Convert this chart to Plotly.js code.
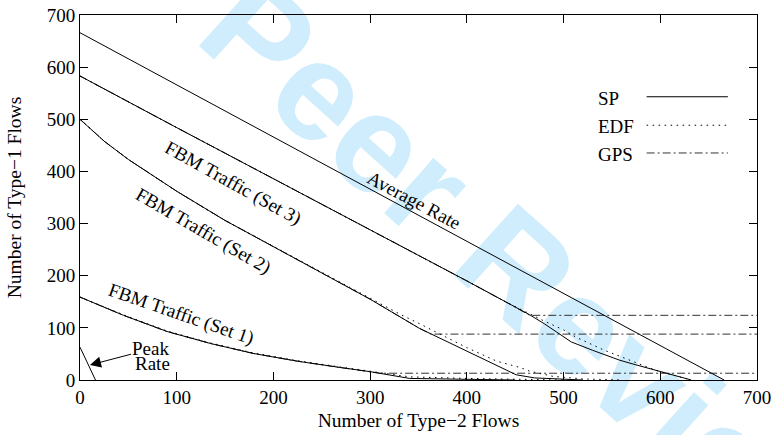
<!DOCTYPE html>
<html>
<head>
<meta charset="utf-8">
<script src="https://cdn.plot.ly/plotly-3.0.1.min.js"></script>
<style>html,body{margin:0;padding:0;background:#fff;}#chart{width:774px;height:435px;}</style>
</head>
<body>
<div id="chart"></div>
<script>
// ---- data ----
const avgX = [0, 666];
const avgY = [666, 0];

const peakX = [0, 16];
const peakY = [63, 0];

const set3SpX = [0, 50, 100, 150, 200, 250, 300, 350, 400, 440, 465, 480, 494, 508, 530, 558, 575, 600, 632];
const set3SpY = [583, 533, 484, 435, 386, 337, 289, 240, 190, 150, 125, 108, 90, 73, 57, 38, 29, 16, 0];
const set3EdfX = [0, 50, 100, 150, 200, 250, 300, 350, 400, 440, 465, 480, 500, 513, 541, 568, 589, 600, 632];
const set3EdfY = [583, 533, 484, 435, 386, 337, 289, 240, 190, 150, 126, 113, 96, 82, 58, 38, 23, 16, 0];
const set3GpsX = [0, 50, 100, 150, 200, 250, 300, 350, 400, 440, 465, 700];
const set3GpsY = [583, 533, 484, 435, 386, 337, 289, 240, 190, 150, 124, 124];

const set2SpX = [0, 25, 50, 100, 150, 200, 250, 300, 351, 400, 451, 470, 520];
const set2SpY = [500, 458, 423, 362, 306, 256, 206, 155, 99, 55, 10, 4, 0];
const set2EdfX = [0, 25, 50, 100, 150, 200, 250, 300, 330, 351, 400, 431, 455, 465, 489, 520, 560];
const set2EdfY = [500, 458, 423, 362, 306, 256, 206, 157, 127, 108, 62, 36, 24, 17, 7, 2, 0];
const set2GpsX = [0, 25, 50, 100, 150, 200, 250, 300, 351, 363, 700];
const set2GpsY = [500, 458, 423, 362, 306, 256, 206, 155, 99, 88, 88];

const set1SpX = [0, 45, 90, 135, 179, 225, 269, 300, 341, 400, 450];
const set1SpY = [159, 124, 93, 70, 51, 36, 24, 16, 3, 1, 0];
const set1EdfX = [0, 45, 90, 135, 179, 225, 269, 300, 341, 400, 450, 500];
const set1EdfY = [159, 125, 94, 71, 52, 37, 25, 17, 6, 3, 1, 0];
const set1GpsX = [0, 45, 90, 135, 179, 225, 269, 300, 310, 700];
const set1GpsY = [159, 124, 93, 70, 51, 36, 24, 16, 13, 13];

const xTicks = [0, 100, 200, 300, 400, 500, 600, 700];
const yTicks = [0, 100, 200, 300, 400, 500, 600, 700];

const legendNames = ['SP', 'EDF', 'GPS'];

// ---- styles ----
const SERIF = 'Liberation Serif, Times New Roman, serif';
const DOT = '1.5px,4.5px';
const DASHDOT = '8px,3px,2px,3px';
const solid = {color: '#000', width: 1};
const dotted = {color: '#000', width: 1, dash: DOT};
const dashdot = {color: '#333', width: 1, dash: DASHDOT};

function tr(x, y, line, name) {
  return {x: x, y: y, type: 'scatter', mode: 'lines', line: line, name: name, showlegend: false, hoverinfo: 'skip'};
}

const traces = [
  tr(set1GpsX, set1GpsY, dashdot, 'GPS'),
  tr(set2GpsX, set2GpsY, dashdot, 'GPS'),
  tr(set3GpsX, set3GpsY, dashdot, 'GPS'),
  tr(set1EdfX, set1EdfY, dotted, 'EDF'),
  tr(set2EdfX, set2EdfY, dotted, 'EDF'),
  tr(set3EdfX, set3EdfY, dotted, 'EDF'),
  tr(set1SpX, set1SpY, solid, 'SP'),
  tr(set2SpX, set2SpY, solid, 'SP'),
  tr(set3SpX, set3SpY, solid, 'SP'),
  tr(avgX, avgY, solid, 'Average Rate'),
  tr(peakX, peakY, solid, 'Peak Rate')
];

// manual legend (text left, sample right)
const legY = [0.772, 0.694, 0.618];
const legStyles = [solid, dotted, dashdot];
const annotations = [];
const shapes = [];
legendNames.forEach(function (n, i) {
  annotations.push({xref: 'paper', yref: 'paper', x: 0.762, y: legY[i], xanchor: 'left', yanchor: 'middle',
    text: n, showarrow: false, font: {family: SERIF, size: 19, color: '#000'}});
  shapes.push({type: 'line', xref: 'paper', yref: 'paper', x0: 0.837, x1: 0.957, y0: legY[i] + 0.004, y1: legY[i] + 0.004,
    line: Object.assign({}, legStyles[i])});
});

// curve labels
const lblFont = {family: SERIF, size: 19, color: '#000'};
annotations.push({x: 346, y: 345, text: 'Average Rate', textangle: 28, showarrow: false, font: lblFont});
annotations.push({x: 158, y: 378, text: 'FBM Traffic (Set 3)', textangle: 29, showarrow: false, font: lblFont});
annotations.push({x: 127, y: 285, text: 'FBM Traffic (Set 2)', textangle: 30, showarrow: false, font: lblFont});
annotations.push({x: 104, y: 126, text: 'FBM Traffic (Set 1)', textangle: 19, showarrow: false, font: lblFont});
annotations.push({x: 10.3, y: 28.8, text: 'Peak', showarrow: true, arrowhead: 2, arrowsize: 2.2,
  arrowwidth: 1, arrowcolor: '#000', ax: 61, ay: -16, font: {family: SERIF, size: 19, color: '#000'}});
annotations.push({x: 54.5, y: 31.5, xanchor: 'left', yanchor: 'middle', text: 'Rate', showarrow: false,
  font: {family: SERIF, size: 19, color: '#000'}});

// watermark, drawn below the data
shapes.push({type: 'rect', xref: 'paper', yref: 'paper', x0: 0.669, x1: 0.689, y0: 0.291, y1: 0.311,
  line: {width: 0}, fillcolor: 'rgba(0,0,0,0)', layer: 'below',
  label: {text: 'Peer Review', textangle: 42, textposition: 'middle center',
    font: {family: 'Liberation Sans, Arial, sans-serif', size: 140, color: '#cfedfc', weight: 'bold'}}});

const axisCommon = {
  range: [0, 700], tickmode: 'array', showgrid: false, zeroline: false,
  showline: true, linecolor: '#000', linewidth: 1, mirror: 'ticks',
  ticks: 'inside', ticklen: 8, tickcolor: '#000', tickwidth: 1,
  tickfont: {family: SERIF, size: 19, color: '#000'}
};

const layout = {
  width: 774, height: 435,
  margin: {l: 80, r: 17, t: 15, b: 55},
  paper_bgcolor: '#fff', plot_bgcolor: 'rgba(0,0,0,0)',
  showlegend: false,
  xaxis: Object.assign({}, axisCommon, {tickvals: xTicks, ticktext: xTicks.map(String),
    title: {text: 'Number of Type\u22122 Flows', font: {family: SERIF, size: 19.5, color: '#000'}, standoff: 6}}),
  yaxis: Object.assign({}, axisCommon, {tickvals: yTicks, ticktext: yTicks.map(String),
    title: {text: 'Number of Type\u22121 Flows', font: {family: SERIF, size: 19.5, color: '#000'}, standoff: 19}}),
  annotations: annotations,
  shapes: shapes
};

Plotly.newPlot('chart', traces, layout, {displayModeBar: false, staticPlot: true});
</script>
</body>
</html>
